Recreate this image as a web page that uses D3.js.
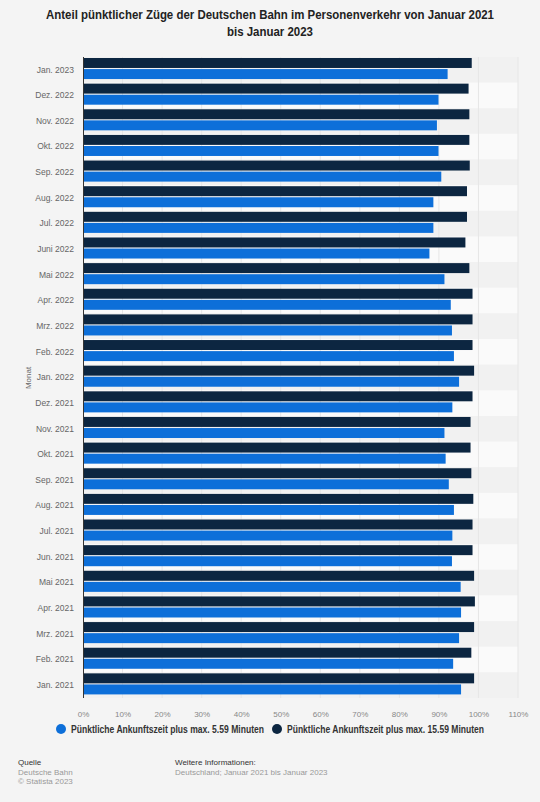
<!DOCTYPE html>
<html>
<head>
<meta charset="utf-8">
<script src="https://cdn.jsdelivr.net/npm/d3@7"></script>
<style>
    body { margin: 0; background: #f4f4f4; font-family: "Liberation Sans", Arial, sans-serif; }
    #chart { width: 540px; height: 802px; }
</style>
</head>
<body>
<div id="chart"></div>
<script>
// months, top to bottom as in the picture
const months = ["Jan. 2023", "Dez. 2022", "Nov. 2022", "Okt. 2022", "Sep. 2022", "Aug. 2022", "Jul. 2022",
    "Juni 2022", "Mai 2022", "Apr. 2022", "Mrz. 2022", "Feb. 2022", "Jan. 2022", "Dez. 2021", "Nov. 2021",
    "Okt. 2021", "Sep. 2021", "Aug. 2021", "Jul. 2021", "Jun. 2021", "Mai 2021", "Apr. 2021", "Mrz. 2021",
    "Feb. 2021", "Jan. 2021"];

// share of punctual trains in %
const within15 = [98.3, 97.5, 97.7, 97.7, 97.8, 97.1, 97.1, 96.7, 97.7, 98.5, 98.5, 98.5, 98.9, 98.5, 98.0,
    98.0, 98.2, 98.7, 98.5, 98.5, 98.9, 99.1, 98.9, 98.2, 98.9];
const within5 = [92.2, 89.9, 89.5, 89.9, 90.6, 88.6, 88.6, 87.6, 91.4, 93.0, 93.3, 93.8, 95.1, 93.4, 91.4,
    91.7, 92.5, 93.8, 93.4, 93.3, 95.5, 95.6, 95.1, 93.6, 95.6];

const seriesNames = ["Pünktliche Ankunftszeit plus max. 15.59 Minuten", "Pünktliche Ankunftszeit plus max. 5.59 Minuten"];
const legendNames = ["Pünktliche Ankunftszeit plus max. 5.59 Minuten", "Pünktliche Ankunftszeit plus max. 15.59 Minuten"];
const xTicks = [0, 10, 20, 30, 40, 50, 60, 70, 80, 90, 100, 110];

const titleLines = ["Anteil pünktlicher Züge der Deutschen Bahn im Personenverkehr von Januar 2021", "bis Januar 2023"];

class PunctualityChart {
    constructor(parentElement) {
        this.parentElement = parentElement;
        this.initVis();
    }

    initVis() {
        let vis = this;

        vis.margin = {top: 57, right: 22, bottom: 104, left: 83};
        vis.totalWidth = 540;
        vis.totalHeight = 802;
        vis.width = vis.totalWidth - vis.margin.left - vis.margin.right;
        vis.height = vis.totalHeight - vis.margin.top - vis.margin.bottom;

        vis.root = d3.select("#" + vis.parentElement).append("svg")
            .attr("width", vis.totalWidth)
            .attr("height", vis.totalHeight);

        vis.root.append("rect")
            .attr("width", vis.totalWidth)
            .attr("height", vis.totalHeight)
            .attr("fill", "#f4f4f4");

        // title (squeezed a bit to the reference width)
        let titleWidths = [448, 86];
        vis.root.append("g").selectAll("text")
            .data(titleLines)
            .join("text")
            .attr("x", vis.totalWidth / 2)
            .attr("y", (d, i) => 19 + i * 17)
            .attr("text-anchor", "middle")
            .attr("font-size", "12.5px")
            .attr("font-weight", "bold")
            .attr("fill", "#222")
            .attr("textLength", (d, i) => titleWidths[i])
            .attr("lengthAdjust", "spacingAndGlyphs")
            .text(d => d);

        vis.svg = vis.root.append("g")
            .attr("transform", "translate(" + vis.margin.left + "," + vis.margin.top + ")");

        vis.xScale = d3.scaleLinear().domain([0, 110]).range([0, vis.width]);
        vis.yScale = d3.scaleBand().domain(months).range([0, vis.height]);
        vis.ySub = d3.scaleBand().domain(seriesNames).paddingInner(0.1);

        vis.color = d3.scaleOrdinal()
            .domain(seriesNames)
            .range(["#0c2641", "#0d6fd9"]);

        vis.wrangleData();
    }

    wrangleData() {
        let vis = this;

        vis.displayData = months.map((m, i) => ({
            month: m,
            values: [
                {key: seriesNames[0], value: within15[i]},
                {key: seriesNames[1], value: within5[i]}
            ]
        }));

        vis.updateVis();
    }

    updateVis() {
        let vis = this;
        let bw = vis.yScale.bandwidth();
        vis.ySub.range([1, bw * 0.86]);

        // alternating row stripes
        vis.svg.append("g").selectAll("rect")
            .data(months)
            .join("rect")
            .attr("x", 0)
            .attr("y", d => vis.yScale(d))
            .attr("width", vis.width)
            .attr("height", bw)
            .attr("fill", (d, i) => i % 2 === 0 ? "#f1f1f1" : "#fafafa");

        // vertical grid
        vis.svg.append("g").selectAll("line")
            .data(xTicks.slice(1))
            .join("line")
            .attr("x1", d => vis.xScale(d))
            .attr("x2", d => vis.xScale(d))
            .attr("y1", 0)
            .attr("y2", vis.height)
            .attr("stroke", "#e6e6e6")
            .attr("stroke-width", 1);

        // bars
        let groups = vis.svg.append("g").selectAll("g")
            .data(vis.displayData)
            .join("g")
            .attr("transform", d => "translate(0," + vis.yScale(d.month) + ")");

        groups.selectAll("rect")
            .data(d => d.values)
            .join("rect")
            .attr("x", 0)
            .attr("y", d => vis.ySub(d.key))
            .attr("width", d => vis.xScale(d.value))
            .attr("height", vis.ySub.bandwidth())
            .attr("fill", d => vis.color(d.key));

        // y axis line
        vis.svg.append("line")
            .attr("x1", 0.5).attr("x2", 0.5)
            .attr("y1", 0).attr("y2", vis.height)
            .attr("stroke", "#333")
            .attr("stroke-width", 1);

        // y labels
        let yAxis = vis.svg.append("g")
            .attr("class", "y axis")
            .call(d3.axisLeft(vis.yScale).tickSize(0).tickPadding(9));
        yAxis.select(".domain").remove();
        yAxis.selectAll("text")
            .attr("font-family", "Liberation Sans, Arial, sans-serif")
            .attr("font-size", "8.5px")
            .attr("fill", "#666");

        // x labels
        let xAxis = vis.svg.append("g")
            .attr("class", "x axis")
            .attr("transform", `translate(0,${vis.height})`)
            .call(d3.axisBottom(vis.xScale)
                .tickValues(xTicks)
                .tickSize(0)
                .tickPadding(13)
                .tickFormat(d => d + "%"));
        xAxis.select(".domain").remove();
        xAxis.selectAll("text")
            .attr("font-family", "Liberation Sans, Arial, sans-serif")
            .attr("font-size", "8px")
            .attr("fill", "#888");

        // axis title
        vis.root.append("text")
            .attr("transform", "translate(31,378) rotate(-90)")
            .attr("text-anchor", "middle")
            .attr("font-size", "8px")
            .attr("fill", "#666")
            .text("Monat");

        // legend
        let legendX = [61, 277];
        let legendWidths = [193, 197];
        let legend = vis.root.append("g").selectAll("g")
            .data(legendNames)
            .join("g")
            .attr("transform", (d, i) => "translate(" + legendX[i] + ",729)");
        legend.append("circle")
            .attr("r", 5)
            .attr("fill", d => vis.color(d === legendNames[0] ? seriesNames[1] : seriesNames[0]));
        legend.append("text")
            .attr("x", 10)
            .attr("y", 4)
            .attr("font-size", "10.5px")
            .attr("font-weight", "bold")
            .attr("fill", "#333")
            .attr("textLength", (d, i) => legendWidths[i])
            .attr("lengthAdjust", "spacingAndGlyphs")
            .text(d => d);

        // footer
        let footer = vis.root.append("g").attr("font-size", "8px");
        footer.append("text").attr("x", 18).attr("y", 765).attr("fill", "#333").text("Quelle");
        footer.append("text").attr("x", 18).attr("y", 775).attr("fill", "#999").text("Deutsche Bahn");
        footer.append("text").attr("x", 18).attr("y", 784).attr("fill", "#999").text("© Statista 2023");
        footer.append("text").attr("x", 175).attr("y", 765).attr("fill", "#333").text("Weitere Informationen:");
        footer.append("text").attr("x", 175).attr("y", 775).attr("fill", "#999").text("Deutschland; Januar 2021 bis Januar 2023");
    }
}

new PunctualityChart("chart");
</script>
</body>
</html>
